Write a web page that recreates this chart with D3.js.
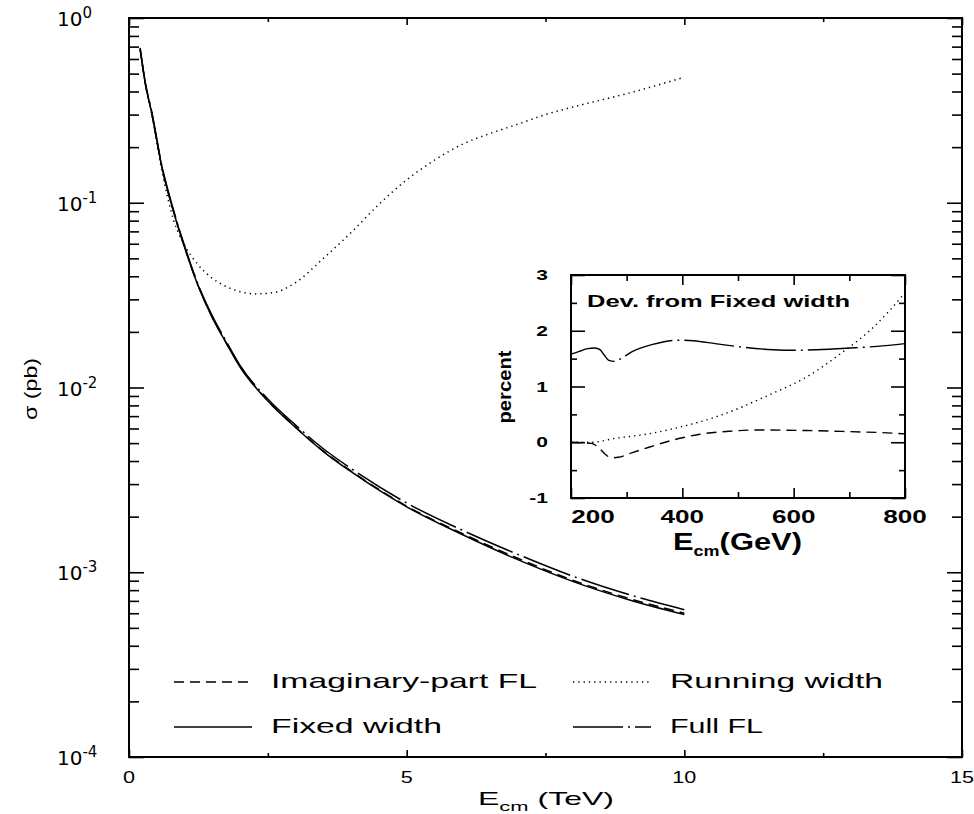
<!DOCTYPE html>
<html>
<head>
<meta charset="utf-8">
<script src="https://cdn.jsdelivr.net/npm/d3@7"></script>
<style>
html, body { margin: 0; padding: 0; background: #fff; }
svg { display: block; font-family: "Liberation Sans", Arial, sans-serif; }
</style>
</head>
<body>
<svg id="chart" width="974" height="814"></svg>
<script>
// main panel: cross section (pb) against E_cm (TeV)
const energyTeV   = [0.2, 0.3, 0.4, 0.6, 0.8, 1.0, 1.25, 1.5, 1.75, 2.0, 2.5, 3.0, 3.5, 4.0, 5.0, 6.0, 7.0, 8.0, 9.0, 10];
const sigmaFixed  = [0.68, 0.43, 0.316, 0.152, 0.090, 0.0575, 0.0352, 0.0239, 0.0174, 0.0129, 0.00845, 0.00607, 0.0045, 0.0035, 0.00226, 0.0016, 0.00117, 0.00089, 0.00071, 0.00059];
const sigmaImagFL = [0.68, 0.43, 0.316, 0.152, 0.0902, 0.0576, 0.0353, 0.0240, 0.0175, 0.0130, 0.00848, 0.00610, 0.00453, 0.00353, 0.00228, 0.00162, 0.00119, 0.000903, 0.000722, 0.000600];
const sigmaFullFL = [0.69, 0.437, 0.321, 0.155, 0.0916, 0.0585, 0.0358, 0.0244, 0.0178, 0.01318, 0.00867, 0.00626, 0.00466, 0.00364, 0.00237, 0.00169, 0.00125, 0.000950, 0.000757, 0.000627];

const energyRunTeV = [0.2, 0.3, 0.4, 0.6, 0.8, 1.0, 1.25, 1.5, 1.75, 2.0, 2.3, 2.6, 3.0, 3.5, 4.0, 4.5, 5.0, 5.5, 6.0, 6.5, 7.0, 7.5, 8.0, 9.0, 10];
const sigmaRunning = [0.68, 0.43, 0.31, 0.145, 0.081, 0.059, 0.046, 0.039, 0.0352, 0.033, 0.0321, 0.0326, 0.037, 0.050, 0.069, 0.098, 0.133, 0.170, 0.207, 0.237, 0.266, 0.300, 0.330, 0.392, 0.478];

const xTicksMain = [0, 5, 10, 15];
const xMinorMain = [2.5, 7.5, 12.5];
const yDecades   = [1e-4, 1e-3, 1e-2, 1e-1, 1];
const yExponents = ["-4", "-3", "-2", "-1", "0"];

// inset: deviation from fixed width (percent) against E_cm (GeV)
const insetFullE   = [200, 215, 230, 243, 252, 260, 268, 278, 290, 309, 345, 393, 420, 459, 504, 563, 600, 641, 701, 750, 800];
const insetFullDev = [1.58, 1.63, 1.68, 1.69, 1.66, 1.56, 1.47, 1.45, 1.50, 1.62, 1.75, 1.83, 1.82, 1.77, 1.71, 1.66, 1.65, 1.66, 1.69, 1.72, 1.77];
const insetImagE   = [200, 237, 250, 262, 273, 285, 309, 340, 369, 400, 429, 489, 536, 623, 701, 785, 800];
const insetImagDev = [0.0, -0.02, -0.10, -0.22, -0.28, -0.27, -0.19, -0.09, 0.0, 0.08, 0.14, 0.20, 0.22, 0.21, 0.19, 0.16, 0.15];
const insetRunE    = [200, 237, 279, 339, 399, 459, 504, 536, 563, 623, 683, 743, 800];
const insetRunDev  = [0.0, 0.0, 0.07, 0.15, 0.28, 0.45, 0.62, 0.76, 0.88, 1.17, 1.58, 2.06, 2.68];

const insetXTicks = [200, 400, 600, 800];
const insetXMinor = [300, 500, 700];
const insetYTicks = [-1, 0, 1, 2, 3];
const insetYMinor = [-0.5, 0.5, 1.5, 2.5];

const legendLabels = ["Imaginary-part FL", "Running width", "Fixed width", "Full FL"];

// line styles per series
const dashFor = {
  "Imaginary-part FL": "10,6",
  "Running width": "1.3,4",
  "Fixed width": null,
  "Full FL": "50,5,2,5",
};

const svg = d3.select("#chart");

const x = d3.scaleLinear().domain([0, 15]).range([129, 962]);
const y = d3.scaleLog().domain([1e-4, 1]).range([757, 18]);

function ticks(g, axis, values, size, transform) {
  g.append("g")
    .attr("transform", transform)
    .call(axis.tickValues(values).tickSize(size).tickFormat(""))
    .call(s => s.select(".domain").remove())
    .call(s => s.selectAll("line").attr("stroke", "#000").attr("stroke-width", 1.6));
}

// ---- main frame and ticks
const isDecade = v => Math.abs(Math.log10(v) - Math.round(Math.log10(v))) < 1e-9;
const yMinor = y.ticks().filter(v => !isDecade(v));

const main = svg.append("g");
ticks(main, d3.axisLeft(y), yDecades, -15, "translate(129,0)");
ticks(main, d3.axisLeft(y), yMinor, -10, "translate(129,0)");
ticks(main, d3.axisRight(y), yDecades, -15, "translate(962,0)");
ticks(main, d3.axisRight(y), yMinor, -10, "translate(962,0)");
ticks(main, d3.axisBottom(x), xTicksMain, -7, "translate(0,757)");
ticks(main, d3.axisBottom(x), xMinorMain, -4, "translate(0,757)");
ticks(main, d3.axisTop(x), xTicksMain, -7, "translate(0,18)");
ticks(main, d3.axisTop(x), xMinorMain, -4, "translate(0,18)");

main.append("rect")
  .attr("x", x(0)).attr("y", y(1))
  .attr("width", x(15) - x(0)).attr("height", y(1e-4) - y(1))
  .attr("fill", "none").attr("stroke", "#000").attr("stroke-width", 2);

// y tick labels 10^n
main.append("g").selectAll("text").data(yDecades).join("text")
  .attr("x", 57).attr("y", d => y(d) + 8)
  .attr("font-family", "DejaVu Sans, sans-serif")
  .attr("font-size", 20)
  .each(function (d, i) {
    const t = d3.select(this);
    t.append("tspan").text("10");
    t.append("tspan").attr("dy", -8).attr("font-size", 15).text(yExponents[i]);
  });

// x tick labels
main.append("g").selectAll("text").data(xTicksMain).join("text")
  .attr("transform", d => `translate(${x(d)},783) scale(1.35,1)`)
  .attr("text-anchor", "middle")
  .attr("font-size", 16)
  .text(d => d);

// axis titles
const xt = main.append("text")
  .attr("x", 478).attr("y", 805)
  .attr("font-size", 19)
  .attr("textLength", 136).attr("lengthAdjust", "spacingAndGlyphs");
xt.append("tspan").text("E");
xt.append("tspan").attr("dy", 6).attr("font-size", 13).text("cm");
xt.append("tspan").attr("dy", -6).text(" (TeV)");

main.append("text")
  .attr("transform", "translate(37,389) rotate(-90)")
  .attr("text-anchor", "middle")
  .attr("font-size", 19)
  .attr("textLength", 62).attr("lengthAdjust", "spacingAndGlyphs")
  .text("σ (pb)");

// ---- main curves
const lineMain = d3.line()
  .x(d => x(d[0])).y(d => y(d[1]))
  .curve(d3.curveMonotoneX);

const mainSeries = [
  { name: "Running width", data: d3.zip(energyRunTeV, sigmaRunning) },
  { name: "Fixed width", data: d3.zip(energyTeV, sigmaFixed) },
  { name: "Imaginary-part FL", data: d3.zip(energyTeV, sigmaImagFL) },
  { name: "Full FL", data: d3.zip(energyTeV, sigmaFullFL) },
];

main.append("g").selectAll("path").data(mainSeries).join("path")
  .attr("d", d => lineMain(d.data))
  .attr("fill", "none")
  .attr("stroke", "#000")
  .attr("stroke-width", 1.5)
  .attr("stroke-dasharray", d => dashFor[d.name]);

// ---- legend
const legendWidths = { "Imaginary-part FL": 266, "Running width": 213, "Fixed width": 171, "Full FL": 93 };
const legend = main.append("g").selectAll("g").data(legendLabels).join("g")
  .attr("transform", (d, i) => `translate(${i % 2 ? 573 : 174},${i < 2 ? 688 : 733})`);
legend.append("line")
  .attr("x1", 0).attr("x2", 78).attr("y1", -6).attr("y2", -6)
  .attr("stroke", "#000").attr("stroke-width", 1.5)
  .attr("stroke-dasharray", d => dashFor[d]);
legend.append("text")
  .attr("x", 97).attr("y", 0)
  .attr("font-size", 21)
  .attr("textLength", d => legendWidths[d]).attr("lengthAdjust", "spacingAndGlyphs")
  .text(d => d);

// ---- inset
const xi = d3.scaleLinear().domain([200, 800]).range([571, 905]);
const yi = d3.scaleLinear().domain([-1, 3]).range([498, 275]);

const inset = svg.append("g");
inset.append("rect")
  .attr("x", xi(200)).attr("y", yi(3))
  .attr("width", xi(800) - xi(200)).attr("height", yi(-1) - yi(3))
  .attr("fill", "#fff");

ticks(inset, d3.axisLeft(yi), insetYTicks, -14, `translate(${xi(200)},0)`);
ticks(inset, d3.axisLeft(yi), insetYMinor, -6, `translate(${xi(200)},0)`);
ticks(inset, d3.axisRight(yi), insetYTicks, -14, `translate(${xi(800)},0)`);
ticks(inset, d3.axisRight(yi), insetYMinor, -6, `translate(${xi(800)},0)`);
ticks(inset, d3.axisBottom(xi), insetXTicks, -10, `translate(0,${yi(-1)})`);
ticks(inset, d3.axisBottom(xi), insetXMinor, -6, `translate(0,${yi(-1)})`);
ticks(inset, d3.axisTop(xi), insetXTicks, -10, `translate(0,${yi(3)})`);
ticks(inset, d3.axisTop(xi), insetXMinor, -6, `translate(0,${yi(3)})`);

inset.append("rect")
  .attr("x", xi(200)).attr("y", yi(3))
  .attr("width", xi(800) - xi(200)).attr("height", yi(-1) - yi(3))
  .attr("fill", "none").attr("stroke", "#000").attr("stroke-width", 2);

const lineInset = d3.line()
  .x(d => xi(d[0])).y(d => yi(d[1]))
  .curve(d3.curveMonotoneX);

const insetSeries = [
  { name: "Running width", data: d3.zip(insetRunE, insetRunDev) },
  { name: "Imaginary-part FL", data: d3.zip(insetImagE, insetImagDev) },
  { name: "Full FL", data: d3.zip(insetFullE, insetFullDev) },
];
inset.append("g").selectAll("path").data(insetSeries).join("path")
  .attr("d", d => lineInset(d.data))
  .attr("fill", "none")
  .attr("stroke", "#000")
  .attr("stroke-width", 1.4)
  .attr("stroke-dasharray", d => dashFor[d.name]);

// inset labels (bold, wide)
inset.append("g").selectAll("text").data(insetYTicks).join("text")
  .attr("transform", d => `translate(548,${yi(d) + 5}) scale(1.5,1)`)
  .attr("text-anchor", "end")
  .attr("font-size", 14).attr("font-weight", "bold")
  .text(d => d);

inset.append("g").selectAll("text").data(insetXTicks).join("text")
  .attr("transform", (d, i) => `translate(${i === 0 ? xi(d) + 22 : xi(d)},523) scale(1.45,1)`)
  .attr("text-anchor", "middle")
  .attr("font-size", 18).attr("font-weight", "bold")
  .text(d => d);

const xit = inset.append("text")
  .attr("x", 673).attr("y", 550)
  .attr("font-size", 24).attr("font-weight", "bold")
  .attr("textLength", 129).attr("lengthAdjust", "spacingAndGlyphs");
xit.append("tspan").text("E");
xit.append("tspan").attr("dy", 6).attr("font-size", 14).text("cm");
xit.append("tspan").attr("dy", -6).text("(GeV)");

inset.append("text")
  .attr("transform", "translate(511,387) rotate(-90)")
  .attr("text-anchor", "middle")
  .attr("font-size", 19).attr("font-weight", "bold")
  .attr("textLength", 73).attr("lengthAdjust", "spacingAndGlyphs")
  .text("percent");

inset.append("text")
  .attr("x", 587).attr("y", 307)
  .attr("font-size", 16.5).attr("font-weight", "bold")
  .attr("textLength", 263).attr("lengthAdjust", "spacingAndGlyphs")
  .text("Dev. from Fixed width");
</script>
</body>
</html>
